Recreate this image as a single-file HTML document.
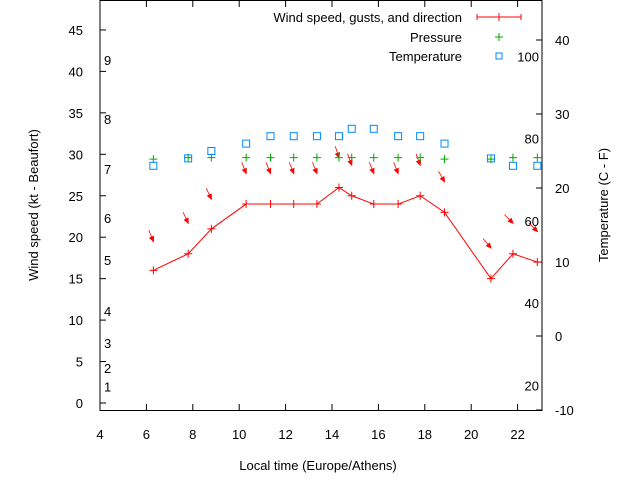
<!DOCTYPE html>
<html><head><meta charset="utf-8"><style>
body{margin:0;background:#fff}
svg{display:block;font-family:"Liberation Sans",sans-serif;font-size:13px}
</style></head><body>
<svg id="c" width="640" height="480" viewBox="0 0 640 480">
<rect x="100" y="0.5" width="442" height="410" fill="none" stroke="#000"/>
<g id="axes"></g>
<g id="marks"></g>
<text x="38" y="205" text-anchor="middle" transform="rotate(-90 38 205)">Wind speed (kt - Beaufort)</text>
<text x="608" y="205" text-anchor="middle" transform="rotate(-90 608 205)">Temperature (C - F)</text>
<text x="318" y="470" text-anchor="middle">Local time (Europe/Athens)</text>
<g>
<text x="462" y="22" text-anchor="end">Wind speed, gusts, and direction</text>
<line x1="477" y1="17" x2="521" y2="17" stroke="#f00"/><line x1="477" y1="14" x2="477" y2="20" stroke="#f00"/><line x1="521" y1="14" x2="521" y2="20" stroke="#f00"/><line x1="499" y1="13" x2="499" y2="21" stroke="#f00"/>
<text x="462" y="42" text-anchor="end">Pressure</text>
<path d="M495 37h8M499 33v8" stroke="#0a0" fill="none"/>
<text x="462" y="61" text-anchor="end">Temperature</text>
<rect x="496" y="53" width="6" height="6" fill="none" stroke="#08f"/>
</g>
</svg>
<script>
const hours=[6.3,7.8,8.8,10.3,11.35,12.35,13.35,14.3,14.85,15.8,16.85,17.8,18.85,20.85,21.8,22.85];
const windKt=[16,18,21,24,24,24,24,26,25,24,24,25,23,15,18,17];
const gustKt=[19.5,21.7,24.6,27.7,27.7,27.7,27.7,29.6,28.7,27.7,27.7,28.7,26.7,18.7,21.7,20.7];
const windDir=[338,335,335,338,338,338,338,342,340,338,338,340,330,320,315,315];
const pressure=[23.9,24.1,24.1,24.1,24.1,24.1,24.1,24.1,24.1,24.1,24.1,24.1,23.9,23.9,24.1,24.1];
const tempC=[23,24,25,26,27,27,27,27,28,28,27,27,26,24,23,23];
const xTicks=[4,6,8,10,12,14,16,18,20,22];
const yTicks=[0,5,10,15,20,25,30,35,40,45];
const y2Ticks=[-10,0,10,20,30,40];
const beaufortLabels=["1","2","3","4","5","6","7","8","9"];
const beaufortKt=[2,4,7,11,17,22,28,34,41];
const fLabels=["20","40","60","80","100"];
const fVals=[20,40,60,80,100];
const X=h=>100+(h-4)*23.2;
const Y=v=>403-v*8.29;
const Y2=c=>336-c*7.4;
const ns="http://www.w3.org/2000/svg";
const ax=document.getElementById('axes'),mk=document.getElementById('marks');
function el(p,t,a){const e=document.createElementNS(ns,t);for(const k in a)e.setAttribute(k,a[k]);p.appendChild(e);return e;}
xTicks.forEach(t=>{const x=X(t);
 el(ax,'line',{x1:x,y1:410.5,x2:x,y2:404,stroke:'#000'});el(ax,'line',{x1:x,y1:0.5,x2:x,y2:7,stroke:'#000'});
 const tx=el(ax,'text',{x:x,y:439,'text-anchor':'middle'});tx.textContent=t;
 
 });
yTicks.forEach(t=>{const y=Y(t);
 el(ax,'line',{x1:100,y1:y,x2:106,y2:y,stroke:'#000'});
 const tx=el(ax,'text',{x:83,y:y+5,'text-anchor':'end'});tx.textContent=t;
 
 });
y2Ticks.forEach(t=>{const y=Y2(t);
 el(ax,'line',{x1:542,y1:y,x2:536,y2:y,stroke:'#000'});
 const tx=el(ax,'text',{x:555,y:y+5});tx.textContent=t;
 
 });
const bY=[393,368,343,311,260,218,169,119,60];
beaufortLabels.forEach((l,i)=>{const tx=el(ax,'text',{x:104,y:Math.min(Y(beaufortKt[i]),bY[i])+5});tx.textContent=l;
 
 });
fVals.forEach((f,i)=>{const c=(f-32)*5/9;const tx=el(ax,'text',{x:539,y:Y2(c)+5,'text-anchor':'end'});tx.textContent=fLabels[i];
 
 });
const pl=el(mk,'polyline',{points:hours.map((h,i)=>X(h)+','+Y(windKt[i])).join(' '),fill:'none',stroke:'#f00'});


hours.forEach((h,i)=>{const x=X(h),y=Y(windKt[i]);
 const p=el(mk,'path',{d:`M${x-4} ${y}h8M${x} ${y-4}v8`,stroke:'#f00'});
 
 
 const gx=X(h),gy=Y(gustKt[i]),d=windDir[i]*Math.PI/180,L=12;
 const ux=-Math.sin(d),uy=Math.cos(d);
 const a=el(mk,'line',{x1:gx-ux*L,y1:gy-uy*L,x2:gx,y2:gy,stroke:'#f00','stroke-width':0.8});
 
 
 const px=-uy,py=ux;
 const hd=el(mk,'polygon',{points:`${gx},${gy} ${gx-ux*4.5+px*2},${gy-uy*4.5+py*2} ${gx-ux*4.5-px*2},${gy-uy*4.5-py*2}`,fill:'#f00',stroke:'#f00'});
 
 
 const x2=X(h),py2=Y2(pressure[i]);
 const pp=el(mk,'path',{d:`M${x2-4} ${py2}h8M${x2} ${py2-4}v8`,stroke:'#0a0'});
 
 
 const ty=Y2(tempC[i]);
 const r=el(mk,'rect',{x:x2-3.5,y:ty-3.5,width:7,height:7,fill:'none',stroke:'#08f'});
 
 
});
</script>
</body></html>
